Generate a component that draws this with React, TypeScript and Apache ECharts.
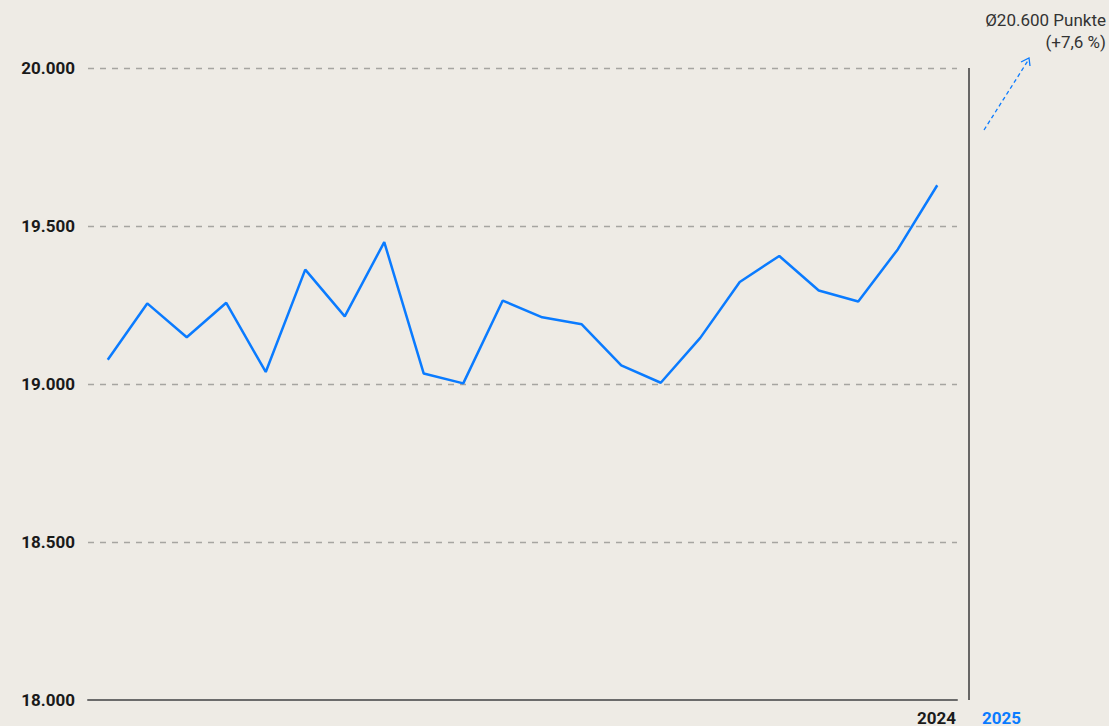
import React, { useEffect, useRef } from "react";
import * as echarts from "echarts";

const categories = ["1","2","3","4","5","6","7","8","9","10","11","12","13","14","15","16","17","18","19","20","21","22"];
const values = [19077, 19255, 19148, 19257, 19038, 19362, 19214, 19449, 19033, 19002, 19264, 19211, 19189, 19059, 19004, 19146, 19323, 19405, 19296, 19261, 19426, 19629];
const yTicks = [18000, 18500, 19000, 19500, 20000];
const yearLabels = ["2024", "2025"];
const forecastLines = ["Ø20.600 Punkte", "(+7,6 %)"];

const BG = "#eeebe5";
const BLUE = "#0a7bff";
const FONT = "Roboto, 'DejaVu Sans', sans-serif";

function fmt(v: number) {
  return String(v).replace(/\B(?=(\d{3})+(?!\d))/g, ".");
}

export default function App() {
  const ref = useRef<HTMLDivElement>(null);
  useEffect(() => {
    document.body.style.margin = "0";
    document.body.style.background = BG;
    const chart = echarts.init(ref.current!, null, { renderer: "svg" });
    chart.setOption({
      animation: false,
      backgroundColor: BG,
      grid: { left: 88, right: 152, top: 68, bottom: 26, containLabel: false },
      xAxis: {
        type: "category",
        data: categories,
        boundaryGap: true,
        axisLine: { show: true, lineStyle: { color: "#6b6b6b", width: 2 } },
        axisTick: { show: false },
        axisLabel: { show: false },
        splitLine: { show: false },
      },
      yAxis: {
        type: "value",
        min: yTicks[0],
        max: yTicks[yTicks.length - 1],
        interval: 500,
        axisLine: { show: false },
        axisTick: { show: false },
        axisLabel: {
          formatter: (v: number) => fmt(v),
          color: "#1a1a1a",
          fontWeight: "bold",
          fontSize: 17,
          fontFamily: FONT,
          margin: 13,
        },
        splitLine: {
          show: true,
          showMinLine: false,
          lineStyle: { color: "#a6a5a1", type: [6, 6], width: 1.3 },
        },
      },
      series: [
        {
          type: "line",
          data: values,
          symbol: "none",
          lineStyle: { color: BLUE, width: 2.5 },
          z: 5,
        },
      ],
      graphic: [
        {
          type: "line",
          shape: { x1: 969, y1: 68, x2: 969, y2: 700 },
          style: { stroke: "#3a3a3a", lineWidth: 1.5 },
        },
        {
          type: "text",
          x: 956,
          y: 709,
          style: {
            text: yearLabels[0],
            fill: "#1a1a1a",
            font: `bold 17px ${FONT}`,
            textAlign: "right",
            textVerticalAlign: "top",
          },
        },
        {
          type: "text",
          x: 982,
          y: 709,
          style: {
            text: yearLabels[1],
            fill: BLUE,
            font: `bold 17px ${FONT}`,
            textAlign: "left",
            textVerticalAlign: "top",
          },
        },
        {
          type: "text",
          x: 1106,
          y: 9,
          style: {
            text: forecastLines.join("\n"),
            fill: "#333333",
            font: `17px ${FONT}`,
            textAlign: "right",
            textVerticalAlign: "top",
            lineHeight: 22,
          },
        },
        {
          type: "line",
          shape: { x1: 984, y1: 130, x2: 1029, y2: 59 },
          style: { stroke: BLUE, lineWidth: 1.3, lineDash: [4, 3] },
        },
        {
          type: "polyline",
          shape: { points: [[1021, 62], [1029, 58], [1030, 66]] },
          style: { stroke: BLUE, lineWidth: 1.3, fill: null },
        },
      ],
    });
    return () => chart.dispose();
  }, []);
  return <div ref={ref} style={{ width: 1109, height: 726 }} />;
}
